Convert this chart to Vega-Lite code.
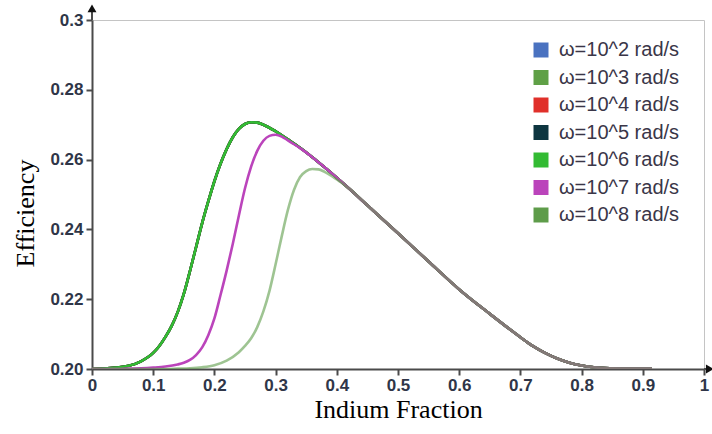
{
"$schema": "https://vega.github.io/schema/vega-lite/v6.json",
"width": 612, "height": 349,
"autosize": "none",
"padding": {"left": 92, "top": 20, "right": 8, "bottom": 65},
"background": "white",
"config": {"view": {"stroke": "#c4c4c4", "strokeWidth": 1}},
"datasets": {
"curves": [
{"x":0,"s":"10^2","y":0.2},{"x":0.02,"s":"10^2","y":0.2001},{"x":0.04,"s":"10^2","y":0.2004},{"x":0.06,"s":"10^2","y":0.2009},{"x":0.08,"s":"10^2","y":0.2022},{"x":0.1,"s":"10^2","y":0.2046},{"x":0.11,"s":"10^2","y":0.2066},{"x":0.12,"s":"10^2","y":0.2092},{"x":0.13,"s":"10^2","y":0.2123},{"x":0.14,"s":"10^2","y":0.2163},{"x":0.15,"s":"10^2","y":0.2215},{"x":0.16,"s":"10^2","y":0.228},{"x":0.17,"s":"10^2","y":0.2349},{"x":0.18,"s":"10^2","y":0.2418},{"x":0.19,"s":"10^2","y":0.248},{"x":0.2,"s":"10^2","y":0.2538},{"x":0.21,"s":"10^2","y":0.2588},{"x":0.22,"s":"10^2","y":0.263},{"x":0.23,"s":"10^2","y":0.2664},{"x":0.24,"s":"10^2","y":0.2688},{"x":0.25,"s":"10^2","y":0.2702},{"x":0.26,"s":"10^2","y":0.2707},{"x":0.27,"s":"10^2","y":0.2706},{"x":0.28,"s":"10^2","y":0.27},{"x":0.3,"s":"10^2","y":0.2681},{"x":0.32,"s":"10^2","y":0.2658},{"x":0.34,"s":"10^2","y":0.2634},{"x":0.36,"s":"10^2","y":0.2607},{"x":0.38,"s":"10^2","y":0.2578},{"x":0.4,"s":"10^2","y":0.2548},{"x":0.42,"s":"10^2","y":0.2517},{"x":0.45,"s":"10^2","y":0.2469},{"x":0.5,"s":"10^2","y":0.2389},{"x":0.55,"s":"10^2","y":0.2308},{"x":0.6,"s":"10^2","y":0.2228},{"x":0.65,"s":"10^2","y":0.2158},{"x":0.7,"s":"10^2","y":0.2091},{"x":0.72,"s":"10^2","y":0.2066},{"x":0.74,"s":"10^2","y":0.2046},{"x":0.76,"s":"10^2","y":0.203},{"x":0.78,"s":"10^2","y":0.2018},{"x":0.8,"s":"10^2","y":0.201},{"x":0.82,"s":"10^2","y":0.2005},{"x":0.85,"s":"10^2","y":0.2002},{"x":0.88,"s":"10^2","y":0.2001},{"x":0.915,"s":"10^2","y":0.2001},
{"x":0,"s":"10^3","y":0.2},{"x":0.02,"s":"10^3","y":0.2001},{"x":0.04,"s":"10^3","y":0.2004},{"x":0.06,"s":"10^3","y":0.2009},{"x":0.08,"s":"10^3","y":0.2022},{"x":0.1,"s":"10^3","y":0.2046},{"x":0.11,"s":"10^3","y":0.2066},{"x":0.12,"s":"10^3","y":0.2092},{"x":0.13,"s":"10^3","y":0.2123},{"x":0.14,"s":"10^3","y":0.2163},{"x":0.15,"s":"10^3","y":0.2215},{"x":0.16,"s":"10^3","y":0.228},{"x":0.17,"s":"10^3","y":0.2349},{"x":0.18,"s":"10^3","y":0.2418},{"x":0.19,"s":"10^3","y":0.248},{"x":0.2,"s":"10^3","y":0.2538},{"x":0.21,"s":"10^3","y":0.2588},{"x":0.22,"s":"10^3","y":0.263},{"x":0.23,"s":"10^3","y":0.2664},{"x":0.24,"s":"10^3","y":0.2688},{"x":0.25,"s":"10^3","y":0.2702},{"x":0.26,"s":"10^3","y":0.2707},{"x":0.27,"s":"10^3","y":0.2706},{"x":0.28,"s":"10^3","y":0.27},{"x":0.3,"s":"10^3","y":0.2681},{"x":0.32,"s":"10^3","y":0.2658},{"x":0.34,"s":"10^3","y":0.2634},{"x":0.36,"s":"10^3","y":0.2607},{"x":0.38,"s":"10^3","y":0.2578},{"x":0.4,"s":"10^3","y":0.2548},{"x":0.42,"s":"10^3","y":0.2517},{"x":0.45,"s":"10^3","y":0.2469},{"x":0.5,"s":"10^3","y":0.2389},{"x":0.55,"s":"10^3","y":0.2308},{"x":0.6,"s":"10^3","y":0.2228},{"x":0.65,"s":"10^3","y":0.2158},{"x":0.7,"s":"10^3","y":0.2091},{"x":0.72,"s":"10^3","y":0.2066},{"x":0.74,"s":"10^3","y":0.2046},{"x":0.76,"s":"10^3","y":0.203},{"x":0.78,"s":"10^3","y":0.2018},{"x":0.8,"s":"10^3","y":0.201},{"x":0.82,"s":"10^3","y":0.2005},{"x":0.85,"s":"10^3","y":0.2002},{"x":0.88,"s":"10^3","y":0.2001},{"x":0.915,"s":"10^3","y":0.2001},
{"x":0,"s":"10^4","y":0.2},{"x":0.02,"s":"10^4","y":0.2001},{"x":0.04,"s":"10^4","y":0.2004},{"x":0.06,"s":"10^4","y":0.2009},{"x":0.08,"s":"10^4","y":0.2022},{"x":0.1,"s":"10^4","y":0.2046},{"x":0.11,"s":"10^4","y":0.2066},{"x":0.12,"s":"10^4","y":0.2092},{"x":0.13,"s":"10^4","y":0.2123},{"x":0.14,"s":"10^4","y":0.2163},{"x":0.15,"s":"10^4","y":0.2215},{"x":0.16,"s":"10^4","y":0.228},{"x":0.17,"s":"10^4","y":0.2349},{"x":0.18,"s":"10^4","y":0.2418},{"x":0.19,"s":"10^4","y":0.248},{"x":0.2,"s":"10^4","y":0.2538},{"x":0.21,"s":"10^4","y":0.2588},{"x":0.22,"s":"10^4","y":0.263},{"x":0.23,"s":"10^4","y":0.2664},{"x":0.24,"s":"10^4","y":0.2688},{"x":0.25,"s":"10^4","y":0.2702},{"x":0.26,"s":"10^4","y":0.2707},{"x":0.27,"s":"10^4","y":0.2706},{"x":0.28,"s":"10^4","y":0.27},{"x":0.3,"s":"10^4","y":0.2681},{"x":0.32,"s":"10^4","y":0.2658},{"x":0.34,"s":"10^4","y":0.2634},{"x":0.36,"s":"10^4","y":0.2607},{"x":0.38,"s":"10^4","y":0.2578},{"x":0.4,"s":"10^4","y":0.2548},{"x":0.42,"s":"10^4","y":0.2517},{"x":0.45,"s":"10^4","y":0.2469},{"x":0.5,"s":"10^4","y":0.2389},{"x":0.55,"s":"10^4","y":0.2308},{"x":0.6,"s":"10^4","y":0.2228},{"x":0.65,"s":"10^4","y":0.2158},{"x":0.7,"s":"10^4","y":0.2091},{"x":0.72,"s":"10^4","y":0.2066},{"x":0.74,"s":"10^4","y":0.2046},{"x":0.76,"s":"10^4","y":0.203},{"x":0.78,"s":"10^4","y":0.2018},{"x":0.8,"s":"10^4","y":0.201},{"x":0.82,"s":"10^4","y":0.2005},{"x":0.85,"s":"10^4","y":0.2002},{"x":0.88,"s":"10^4","y":0.2001},{"x":0.915,"s":"10^4","y":0.2001},
{"x":0,"s":"10^5","y":0.2},{"x":0.02,"s":"10^5","y":0.2001},{"x":0.04,"s":"10^5","y":0.2004},{"x":0.06,"s":"10^5","y":0.2009},{"x":0.08,"s":"10^5","y":0.2022},{"x":0.1,"s":"10^5","y":0.2046},{"x":0.11,"s":"10^5","y":0.2066},{"x":0.12,"s":"10^5","y":0.2092},{"x":0.13,"s":"10^5","y":0.2123},{"x":0.14,"s":"10^5","y":0.2163},{"x":0.15,"s":"10^5","y":0.2215},{"x":0.16,"s":"10^5","y":0.228},{"x":0.17,"s":"10^5","y":0.2349},{"x":0.18,"s":"10^5","y":0.2418},{"x":0.19,"s":"10^5","y":0.248},{"x":0.2,"s":"10^5","y":0.2538},{"x":0.21,"s":"10^5","y":0.2588},{"x":0.22,"s":"10^5","y":0.263},{"x":0.23,"s":"10^5","y":0.2664},{"x":0.24,"s":"10^5","y":0.2688},{"x":0.25,"s":"10^5","y":0.2702},{"x":0.26,"s":"10^5","y":0.2707},{"x":0.27,"s":"10^5","y":0.2706},{"x":0.28,"s":"10^5","y":0.27},{"x":0.3,"s":"10^5","y":0.2681},{"x":0.32,"s":"10^5","y":0.2658},{"x":0.34,"s":"10^5","y":0.2634},{"x":0.36,"s":"10^5","y":0.2607},{"x":0.38,"s":"10^5","y":0.2578},{"x":0.4,"s":"10^5","y":0.2548},{"x":0.42,"s":"10^5","y":0.2517},{"x":0.45,"s":"10^5","y":0.2469},{"x":0.5,"s":"10^5","y":0.2389},{"x":0.55,"s":"10^5","y":0.2308},{"x":0.6,"s":"10^5","y":0.2228},{"x":0.65,"s":"10^5","y":0.2158},{"x":0.7,"s":"10^5","y":0.2091},{"x":0.72,"s":"10^5","y":0.2066},{"x":0.74,"s":"10^5","y":0.2046},{"x":0.76,"s":"10^5","y":0.203},{"x":0.78,"s":"10^5","y":0.2018},{"x":0.8,"s":"10^5","y":0.201},{"x":0.82,"s":"10^5","y":0.2005},{"x":0.85,"s":"10^5","y":0.2002},{"x":0.88,"s":"10^5","y":0.2001},{"x":0.915,"s":"10^5","y":0.2001},
{"x":0,"s":"10^6","y":0.2},{"x":0.02,"s":"10^6","y":0.2001},{"x":0.04,"s":"10^6","y":0.2004},{"x":0.06,"s":"10^6","y":0.2009},{"x":0.08,"s":"10^6","y":0.2022},{"x":0.1,"s":"10^6","y":0.2046},{"x":0.11,"s":"10^6","y":0.2066},{"x":0.12,"s":"10^6","y":0.2092},{"x":0.13,"s":"10^6","y":0.2123},{"x":0.14,"s":"10^6","y":0.2163},{"x":0.15,"s":"10^6","y":0.2215},{"x":0.16,"s":"10^6","y":0.228},{"x":0.17,"s":"10^6","y":0.2349},{"x":0.18,"s":"10^6","y":0.2418},{"x":0.19,"s":"10^6","y":0.248},{"x":0.2,"s":"10^6","y":0.2538},{"x":0.21,"s":"10^6","y":0.2588},{"x":0.22,"s":"10^6","y":0.263},{"x":0.23,"s":"10^6","y":0.2664},{"x":0.24,"s":"10^6","y":0.2688},{"x":0.25,"s":"10^6","y":0.2702},{"x":0.26,"s":"10^6","y":0.2707},{"x":0.27,"s":"10^6","y":0.2706},{"x":0.28,"s":"10^6","y":0.27},{"x":0.3,"s":"10^6","y":0.2681},{"x":0.32,"s":"10^6","y":0.2658},{"x":0.34,"s":"10^6","y":0.2634},{"x":0.36,"s":"10^6","y":0.2607},{"x":0.38,"s":"10^6","y":0.2578},{"x":0.4,"s":"10^6","y":0.2548},{"x":0.42,"s":"10^6","y":0.2517},{"x":0.45,"s":"10^6","y":0.2469},{"x":0.5,"s":"10^6","y":0.2389},{"x":0.55,"s":"10^6","y":0.2308},{"x":0.6,"s":"10^6","y":0.2228},{"x":0.65,"s":"10^6","y":0.2158},{"x":0.7,"s":"10^6","y":0.2091},{"x":0.72,"s":"10^6","y":0.2066},{"x":0.74,"s":"10^6","y":0.2046},{"x":0.76,"s":"10^6","y":0.203},{"x":0.78,"s":"10^6","y":0.2018},{"x":0.8,"s":"10^6","y":0.201},{"x":0.82,"s":"10^6","y":0.2005},{"x":0.85,"s":"10^6","y":0.2002},{"x":0.88,"s":"10^6","y":0.2001},{"x":0.915,"s":"10^6","y":0.2001},
{"x":0,"s":"10^7","y":0.2},{"x":0.04,"s":"10^7","y":0.2},{"x":0.06,"s":"10^7","y":0.2001},{"x":0.08,"s":"10^7","y":0.2002},{"x":0.1,"s":"10^7","y":0.2004},{"x":0.12,"s":"10^7","y":0.2007},{"x":0.14,"s":"10^7","y":0.2013},{"x":0.15,"s":"10^7","y":0.2018},{"x":0.16,"s":"10^7","y":0.2026},{"x":0.17,"s":"10^7","y":0.204},{"x":0.18,"s":"10^7","y":0.2062},{"x":0.19,"s":"10^7","y":0.2097},{"x":0.2,"s":"10^7","y":0.2145},{"x":0.21,"s":"10^7","y":0.2212},{"x":0.22,"s":"10^7","y":0.2282},{"x":0.23,"s":"10^7","y":0.2358},{"x":0.24,"s":"10^7","y":0.244},{"x":0.25,"s":"10^7","y":0.2518},{"x":0.26,"s":"10^7","y":0.258},{"x":0.27,"s":"10^7","y":0.2625},{"x":0.28,"s":"10^7","y":0.2654},{"x":0.29,"s":"10^7","y":0.2668},{"x":0.3,"s":"10^7","y":0.2671},{"x":0.31,"s":"10^7","y":0.2666},{"x":0.32,"s":"10^7","y":0.2655},{"x":0.33,"s":"10^7","y":0.2644},{"x":0.34,"s":"10^7","y":0.2633},{"x":0.36,"s":"10^7","y":0.2607},{"x":0.38,"s":"10^7","y":0.2578},{"x":0.4,"s":"10^7","y":0.2548},{"x":0.42,"s":"10^7","y":0.2517},{"x":0.45,"s":"10^7","y":0.2469},{"x":0.5,"s":"10^7","y":0.2389},{"x":0.55,"s":"10^7","y":0.2308},{"x":0.6,"s":"10^7","y":0.2228},{"x":0.65,"s":"10^7","y":0.2158},{"x":0.7,"s":"10^7","y":0.2091},{"x":0.72,"s":"10^7","y":0.2066},{"x":0.74,"s":"10^7","y":0.2046},{"x":0.76,"s":"10^7","y":0.203},{"x":0.78,"s":"10^7","y":0.2018},{"x":0.8,"s":"10^7","y":0.201},{"x":0.82,"s":"10^7","y":0.2005},{"x":0.85,"s":"10^7","y":0.2002},{"x":0.88,"s":"10^7","y":0.2001},{"x":0.915,"s":"10^7","y":0.2001},
{"x":0,"s":"10^8","y":0.2},{"x":0.08,"s":"10^8","y":0.2},{"x":0.12,"s":"10^8","y":0.2},{"x":0.14,"s":"10^8","y":0.2001},{"x":0.16,"s":"10^8","y":0.2002},{"x":0.18,"s":"10^8","y":0.2005},{"x":0.2,"s":"10^8","y":0.2011},{"x":0.22,"s":"10^8","y":0.2024},{"x":0.24,"s":"10^8","y":0.2048},{"x":0.25,"s":"10^8","y":0.2066},{"x":0.26,"s":"10^8","y":0.2088},{"x":0.27,"s":"10^8","y":0.212},{"x":0.28,"s":"10^8","y":0.2165},{"x":0.29,"s":"10^8","y":0.2224},{"x":0.3,"s":"10^8","y":0.23},{"x":0.31,"s":"10^8","y":0.238},{"x":0.32,"s":"10^8","y":0.2455},{"x":0.33,"s":"10^8","y":0.2513},{"x":0.34,"s":"10^8","y":0.255},{"x":0.35,"s":"10^8","y":0.2567},{"x":0.36,"s":"10^8","y":0.2573},{"x":0.37,"s":"10^8","y":0.2572},{"x":0.38,"s":"10^8","y":0.2565},{"x":0.39,"s":"10^8","y":0.2555},{"x":0.4,"s":"10^8","y":0.2543},{"x":0.41,"s":"10^8","y":0.2531},{"x":0.42,"s":"10^8","y":0.2517},{"x":0.45,"s":"10^8","y":0.2469},{"x":0.5,"s":"10^8","y":0.2389},{"x":0.55,"s":"10^8","y":0.2308},{"x":0.6,"s":"10^8","y":0.2228},{"x":0.65,"s":"10^8","y":0.2158},{"x":0.7,"s":"10^8","y":0.2091},{"x":0.72,"s":"10^8","y":0.2066},{"x":0.74,"s":"10^8","y":0.2046},{"x":0.76,"s":"10^8","y":0.203},{"x":0.78,"s":"10^8","y":0.2018},{"x":0.8,"s":"10^8","y":0.201},{"x":0.82,"s":"10^8","y":0.2005},{"x":0.85,"s":"10^8","y":0.2002},{"x":0.88,"s":"10^8","y":0.2001},{"x":0.915,"s":"10^8","y":0.2001}
]
},
"layer": [
{
"data": {"name": "curves"},
"transform": [{"filter": "datum.s !== '10^8'"}],
"mark": {"type": "line", "interpolate": "monotone", "strokeWidth": 2.6, "clip": true},
"encoding": {
"x": {"field": "x", "type": "quantitative",
"scale": {"domain": [0, 1], "nice": false, "zero": false},
"axis": {"values": [0,0.1,0.2,0.3,0.4,0.5,0.6,0.7,0.8,0.9,1], "format": "~g", "grid": false,
"domainColor": "#4a4a4a", "domainWidth": 2, "tickColor": "#4a4a4a", "tickWidth": 2, "tickSize": 6,
"labelFont": "Liberation Sans", "labelFontSize": 17, "labelFontWeight": "bold", "labelColor": "#2f3648", "labelPadding": 2, "labelFlush": false,
"title": "Indium Fraction", "titleFont": "Liberation Serif", "titleFontSize": 26, "titleFontWeight": "normal", "titleColor": "#000000", "titlePadding": 3}},
"y": {"field": "y", "type": "quantitative",
"scale": {"domain": [0.2, 0.3], "nice": false, "zero": false},
"axis": {"values": [0.2,0.22,0.24,0.26,0.28,0.3], "labelExpr": "datum.value == 0.3 ? '0.3' : format(datum.value, '.2f')", "grid": false,
"domainColor": "#4a4a4a", "domainWidth": 2, "tickColor": "#4a4a4a", "tickWidth": 2, "tickSize": 6,
"labelFont": "Liberation Sans", "labelFontSize": 17, "labelFontWeight": "bold", "labelColor": "#2f3648", "labelPadding": 3,
"title": "Efficiency", "titleFont": "Liberation Serif", "titleFontSize": 26, "titleFontWeight": "normal", "titleColor": "#000000", "titleX": -54, "titleY": 193}},
"color": {"field": "s", "type": "nominal",
"scale": {"domain": ["10^2","10^3","10^4","10^5","10^6","10^7","10^8"], "range": ["#4a72c0","#5fa046","#e0302a","#0d3540","#33bb33","#bb44bb","#5e9c4a"]},
"legend": {"orient": "none", "legendX": 439, "legendY": 20, "title": null, "padding": 0,
"symbolType": "square", "symbolSize": 225, "symbolStrokeWidth": 0,
"labelFont": "Liberation Sans", "labelFontSize": 20, "labelColor": "#3a3648", "labelOffset": 8, "rowPadding": 7.5,
"labelExpr": "'ω=' + datum.label + ' rad/s'",
"encode": {"symbols": {"update": {"fill": {"scale": "color", "field": "value"}, "stroke": {"value": "transparent"}, "opacity": {"value": 1}}}}}}
}
},
{
"data": {"name": "curves"},
"transform": [{"filter": "datum.s === '10^8'"}],
"mark": {"type": "line", "interpolate": "monotone", "strokeWidth": 2.6, "clip": true, "opacity": 0.6},
"encoding": {
"x": {"field": "x", "type": "quantitative"},
"y": {"field": "y", "type": "quantitative"},
"color": {"field": "s", "type": "nominal"}
}
},
{
"data": {"values": [{}]},
"mark": {"type": "rule", "color": "#4a4a4a", "strokeWidth": 2},
"encoding": {"x": {"datum": 0}, "y": {"datum": 0.3}, "y2": {"datum": 0.3035}}
},
{
"data": {"values": [{}]},
"mark": {"type": "rule", "color": "#4a4a4a", "strokeWidth": 2},
"encoding": {"x": {"datum": 1}, "x2": {"datum": 1.008}, "y": {"datum": 0.2}}
},
{
"data": {"values": [{}]},
"mark": {"type": "point", "shape": "triangle-up", "filled": true, "size": 80, "color": "#111111", "opacity": 1},
"encoding": {"x": {"datum": 0}, "y": {"datum": 0.3033}}
},
{
"data": {"values": [{}]},
"mark": {"type": "point", "shape": "triangle-right", "filled": true, "size": 80, "color": "#111111", "opacity": 1},
"encoding": {"x": {"datum": 1.0095}, "y": {"datum": 0.2}}
}
]
}
